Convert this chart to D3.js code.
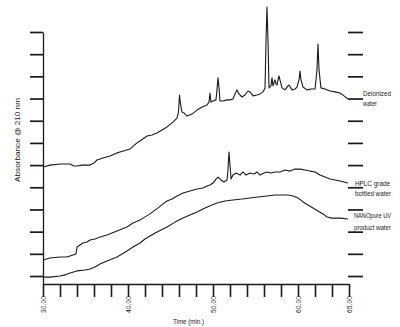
<!DOCTYPE html>
<html><head><meta charset="utf-8">
<script src="https://cdn.jsdelivr.net/npm/d3@7/dist/d3.min.js"></script>
<style>
html,body{margin:0;padding:0;background:#fff;}
svg{display:block;font-family:"Liberation Sans",Arial,sans-serif;}
</style></head>
<body>
<svg id="c" width="400" height="327"></svg>
<script>
// time (min.)
const deionizedTime = [30.00,30.82,32.00,33.18,33.65,34.00,34.59,35.53,36.00,36.35,37.06,37.88,38.71,39.06,40.24,41.06,41.41,42.24,42.82,43.41,44.00,44.59,45.29,45.76,45.94,46.06,46.18,46.35,46.59,46.94,47.53,48.12,48.71,49.29,49.53,49.65,49.76,50.00,50.35,50.47,50.59,50.71,50.82,51.18,51.65,52.00,52.35,52.59,52.82,53.06,53.41,53.76,54.12,54.35,54.71,55.18,55.53,55.88,56.12,56.24,56.35,56.47,56.59,56.82,56.94,57.06,57.29,57.41,57.53,57.65,57.76,57.88,58.12,58.47,58.82,58.94,59.29,59.65,59.88,60.10,60.20,60.29,60.49,60.88,61.27,61.67,61.86,61.96,62.06,62.25,62.65,63.14,63.63,64.12,64.51,64.90];
const deionizedAbs = [4.91,5.00,5.05,5.05,4.96,4.96,5.00,5.00,5.09,5.23,5.32,5.41,5.55,5.59,5.73,6.00,6.09,6.31,6.36,6.45,6.58,6.72,6.94,7.12,7.39,8.16,7.75,7.39,7.35,7.21,7.30,7.48,7.62,7.71,7.84,8.25,7.84,7.89,7.94,8.39,8.93,8.48,7.89,7.89,7.94,7.94,7.98,8.21,8.39,8.21,8.07,8.16,8.34,8.30,8.12,8.16,8.21,8.30,8.48,10.64,12.13,10.64,8.48,8.57,8.93,8.57,8.84,8.66,8.61,8.84,9.02,8.84,8.48,8.39,8.57,8.61,8.39,8.43,8.52,8.84,9.24,8.84,8.52,8.39,8.43,8.43,9.29,10.46,9.29,8.48,8.43,8.34,8.30,8.25,8.12,7.98];

const hplcTime = [30.00,30.82,32.00,32.82,33.53,33.88,34.00,34.35,34.71,35.18,35.53,36.12,36.71,37.53,38.12,38.71,39.29,39.88,40.59,41.41,41.76,42.59,43.53,44.12,44.59,45.18,45.76,46.47,47.29,48.12,48.82,49.29,49.65,50.00,50.35,50.59,50.94,51.29,51.65,51.76,51.88,52.00,52.12,52.35,52.71,53.18,53.53,53.88,54.35,54.82,55.18,55.53,56.00,56.35,56.82,57.29,57.88,58.47,59.06,59.65,60.20,60.69,61.18,61.67,62.16,62.65,63.14,63.63,64.12,64.51,64.90];
const hplcAbs = [0.72,0.81,0.86,0.86,0.95,0.99,1.31,1.40,1.49,1.53,1.62,1.67,1.76,1.85,1.94,2.03,2.12,2.21,2.39,2.52,2.61,2.80,3.07,3.25,3.38,3.47,3.61,3.74,3.83,3.92,3.97,4.06,4.10,4.19,4.37,4.46,4.33,4.24,4.33,4.78,5.59,5.00,4.37,4.55,4.64,4.55,4.69,4.55,4.64,4.60,4.69,4.55,4.64,4.69,4.64,4.69,4.69,4.78,4.73,4.82,4.82,4.78,4.73,4.69,4.55,4.46,4.37,4.33,4.28,4.24,4.19];

const nanoTime = [30.00,30.82,32.00,32.59,33.18,34.00,34.94,35.53,36.12,36.71,37.53,38.12,38.71,39.29,39.88,40.59,41.41,42.00,42.59,43.41,44.12,44.59,45.53,46.47,47.29,48.12,49.06,49.88,50.47,51.41,52.35,53.41,54.35,55.29,56.35,57.29,58.12,58.82,59.41,60.00,60.49,60.98,61.47,61.96,62.45,62.84,63.33,64.12,64.90];
const nanoAbs = [-0.05,-0.05,0.00,0.05,0.14,0.23,0.27,0.32,0.41,0.54,0.68,0.77,0.86,0.99,1.13,1.31,1.49,1.67,1.80,1.98,2.12,2.21,2.43,2.61,2.75,2.89,3.07,3.20,3.29,3.38,3.43,3.47,3.52,3.56,3.61,3.65,3.65,3.65,3.61,3.52,3.34,3.20,3.07,2.93,2.80,2.66,2.61,2.61,2.57];

const xTickValues = [30,32,34,36,38,40,42,44,46,48,50,52,54,56,58,60,61.667,63.333,65];
const xTickLabels = [30,40,50,60,65];
const yTickValues = [0,1,2,3,4,5,6,7,8,9,10,11];
const seriesLabels = [["Deionized","water"],["HPLC grade","bottled water"],["NANOpure UV","product water"]];
const labelLevels = [8.12,4.06,2.61];

const svg = d3.select("#c");
const ink = "#1a1a1a";
const x = d3.scaleLinear().domain([30,60,65]).range([43,298,349]);
const y = d3.scaleLinear().domain([-0.36,11]).range([284,32]);

// left axis
const gL = svg.append("g").attr("transform","translate(43,0)")
  .call(d3.axisLeft(y).tickValues(yTickValues).tickSize(13).tickSizeOuter(0).tickFormat(""));
gL.select(".domain").attr("stroke",ink).attr("stroke-width",1.3);
gL.selectAll(".tick line").attr("stroke",ink).attr("stroke-width",1.7);

// right ticks
const gR = svg.append("g").attr("transform","translate(348,0)")
  .call(d3.axisRight(y).tickValues(yTickValues).tickSize(15).tickFormat(""));
gR.select(".domain").remove();
gR.selectAll(".tick line").attr("stroke",ink).attr("stroke-width",1.7);

// bottom axis
const gB = svg.append("g").attr("transform","translate(0,284)")
  .call(d3.axisBottom(x).tickValues(xTickValues).tickSize(13).tickSizeOuter(0)
    .tickFormat(d => xTickLabels.some(v => Math.abs(v-d)<1e-6) ? d3.format(".2f")(d) : ""));
gB.select(".domain").attr("stroke",ink).attr("stroke-width",1.3);
gB.selectAll(".tick line").attr("stroke",ink).attr("stroke-width",1.6);
gB.selectAll(".tick text")
  .attr("transform","rotate(-90)")
  .attr("x",-12).attr("y",0).attr("dy","0.32em")
  .attr("text-anchor","end")
  .attr("fill",ink).attr("font-size",6.5)
  .attr("font-family","Liberation Sans, Arial, sans-serif")
  .each(function(){ if (this.textContent) d3.select(this).attr("textLength",17).attr("lengthAdjust","spacingAndGlyphs"); });

// traces
const line = d3.line().x(d => x(d[0])).y(d => y(d[1]));
[[deionizedTime,deionizedAbs],[hplcTime,hplcAbs],[nanoTime,nanoAbs]].forEach(([t,a]) => {
  svg.append("path").datum(t.map((v,i)=>[v,a[i]]))
    .attr("d",line).attr("fill","none").attr("stroke",ink).attr("stroke-width",1.1)
    .attr("stroke-linejoin","round");
});

// series labels
const labelX = [363,355,354];
const labelGap = [10,10,12];
const labelW = [[28,14],[35,36],[37,37]];
seriesLabels.forEach((lines,i) => {
  lines.forEach((s,j) => {
    svg.append("text").attr("fill",ink).attr("font-size",6.5)
      .attr("x", labelX[i]).attr("y", y(labelLevels[i]) + j*labelGap[i])
      .attr("textLength", labelW[i][j]).attr("lengthAdjust","spacingAndGlyphs")
      .text(s);
  });
});

// axis titles
svg.append("text").attr("transform","translate(20,140) rotate(-90)")
  .attr("text-anchor","middle").attr("font-size",8).attr("fill",ink)
  .attr("textLength",84).attr("lengthAdjust","spacingAndGlyphs").text("Absorbance @ 210 nm");
svg.append("text").attr("x",173).attr("y",324)
  .attr("font-size",7).attr("fill",ink)
  .attr("textLength",31).attr("lengthAdjust","spacingAndGlyphs").text("Time (min.)");
</script>
</body></html>
